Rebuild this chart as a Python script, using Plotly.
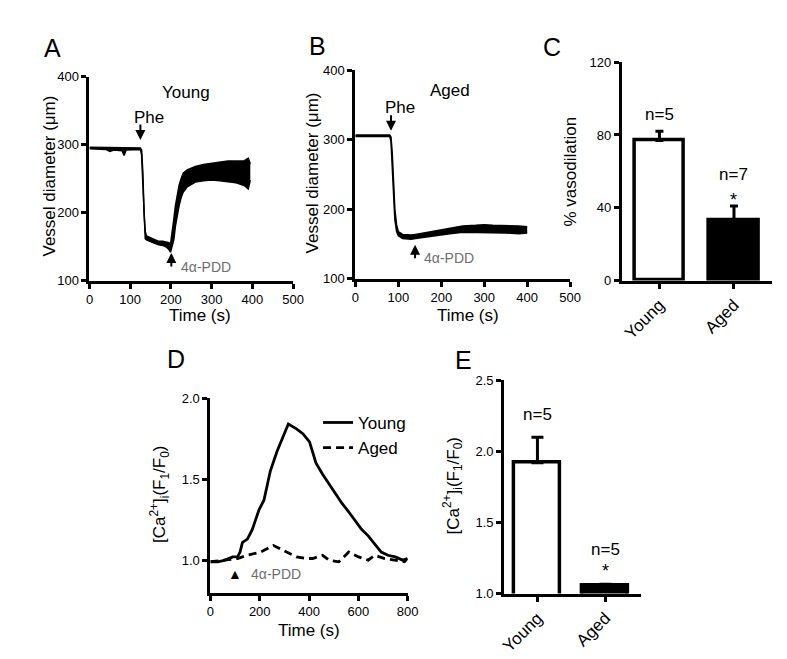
import plotly.graph_objects as go

W, H = 787, 659
FONT = "Liberation Sans, Arial, sans-serif"
GRAY = "#6e6e6e"

# ---------- Panel A (Young vessel diameter trace, upper/lower envelope) ----------
a_time = [0, 20, 40, 50, 60, 80, 85, 90, 110, 125, 128, 131, 134, 137, 140, 150, 160, 170, 180,
          190, 195, 199, 203, 207, 211, 215, 220, 225, 230, 240, 250, 260, 280, 300, 320, 340,
          360, 380, 390, 395]
a_upper = [296, 296, 296, 296, 295, 295, 295, 295, 295, 295, 292, 260, 200, 172, 166, 163, 160, 158, 158,
           156, 156, 154, 170, 190, 210, 225, 240, 250, 258, 263, 266, 268, 271, 273, 275, 276,
           276, 276, 280, 272]
a_lower = [294, 294, 293, 290, 292, 291, 284, 292, 293, 293, 285, 240, 180, 162, 160, 157, 155, 153, 152,
           149, 146, 142, 150, 160, 180, 195, 210, 222, 230, 238, 242, 245, 247, 248, 247, 245,
           244, 240, 235, 248]

# ---------- Panel B (Aged vessel diameter trace) ----------
b_time = [0, 40, 80, 83, 86, 89, 92, 96, 100, 110, 120, 130, 140, 160, 180, 200, 220, 250, 280,
          300, 320, 350, 380, 400]
b_upper = [307, 307, 307, 304, 280, 240, 200, 178, 168, 164, 163, 163, 164, 166, 168, 171, 173, 176, 177,
           178, 177, 177, 176, 175]
b_lower = [305, 305, 305, 298, 260, 215, 185, 168, 162, 158, 157, 157, 158, 160, 162, 163, 165, 167, 167,
           166, 166, 166, 165, 166]

# ---------- Panel C ----------
c_groups = ["Young", "Aged"]
c_values = [77, 33]
c_errors = [5, 8]
c_n = ["n=5", "n=7"]

# ---------- Panel D ([Ca2+]i time course) ----------
d_young_t = [0, 30, 60, 90, 110, 120, 130, 150, 170, 197, 217, 243, 270, 296, 316, 349, 375, 402,
             428, 455, 481, 507, 534, 560, 587, 613, 640, 667, 693, 720, 750, 780, 800]
d_young_v = [0.99, 0.99, 1.00, 1.02, 1.02, 1.05, 1.11, 1.13, 1.19, 1.31, 1.37, 1.55, 1.67, 1.77, 1.84, 1.81,
             1.78, 1.73, 1.60, 1.53, 1.47, 1.41, 1.35, 1.30, 1.24, 1.19, 1.15, 1.10, 1.05, 1.03, 1.02,
             1.00, 1.01]
d_aged_t = [0, 57, 110, 150, 203, 256, 296, 349, 388, 415, 455, 481, 521, 561, 601, 640, 667, 707,
            747, 787, 800]
d_aged_v = [0.99, 1.00, 1.01, 1.03, 1.05, 1.09, 1.06, 1.02, 1.01, 1.01, 1.03, 1.00, 0.99, 1.05, 1.02,
            1.00, 1.03, 1.01, 1.00, 0.99, 1.01]

# ---------- Panel E ----------
e_groups = ["Young", "Aged"]
e_values = [1.92, 1.055]
e_errors = [0.18, 0.01]
e_n = ["n=5", "n=5"]


def px(x):
    return x / W


def py(y):
    return 1 - y / H


fig = go.Figure()

# Panel A traces
fig.add_trace(go.Scatter(x=a_time, y=a_lower, mode="lines", line=dict(color="black", width=1.5),
                         xaxis="x", yaxis="y", showlegend=False, hoverinfo="skip"))
fig.add_trace(go.Scatter(x=a_time, y=a_upper, mode="lines", line=dict(color="black", width=1.5),
                         fill="tonexty", fillcolor="black", xaxis="x", yaxis="y", showlegend=False,
                         hoverinfo="skip"))
# Panel B traces
fig.add_trace(go.Scatter(x=b_time, y=b_lower, mode="lines", line=dict(color="black", width=1.5),
                         xaxis="x2", yaxis="y2", showlegend=False, hoverinfo="skip"))
fig.add_trace(go.Scatter(x=b_time, y=b_upper, mode="lines", line=dict(color="black", width=1.5),
                         fill="tonexty", fillcolor="black", xaxis="x2", yaxis="y2", showlegend=False,
                         hoverinfo="skip"))
# Panel C bars
fig.add_trace(go.Bar(x=c_groups, y=c_values, width=0.667,
                     marker=dict(color=["white", "black"], line=dict(color="black", width=3.5)),
                     error_y=dict(type="data", array=c_errors, arrayminus=[0, 0], symmetric=False,
                                  color="black", thickness=3, width=4),
                     xaxis="x3", yaxis="y3", showlegend=False))
# Panel D lines
fig.add_trace(go.Scatter(x=d_young_t, y=d_young_v, mode="lines", name="Young",
                         line=dict(color="black", width=2.8), xaxis="x4", yaxis="y4"))
fig.add_trace(go.Scatter(x=d_aged_t, y=d_aged_v, mode="lines", name="Aged",
                         line=dict(color="black", width=2.8, dash="8px,5px"), xaxis="x4", yaxis="y4"))
# Panel E bars
fig.add_trace(go.Bar(x=e_groups, y=e_values, width=0.68,
                     marker=dict(color=["white", "black"], line=dict(color="black", width=3.5)),
                     error_y=dict(type="data", array=e_errors, arrayminus=[0, 0], symmetric=False,
                                  color="black", thickness=3, width=6),
                     xaxis="x5", yaxis="y5", showlegend=False))

axis_common = dict(showline=True, linecolor="black", linewidth=3, ticks="outside", ticklen=5,
                   tickwidth=3, tickcolor="black", showgrid=False, zeroline=False,
                   tickfont=dict(family=FONT, size=13, color="black"))
cat_font = dict(family=FONT, size=17, color="black")

fig.update_layout(
    width=W, height=H, margin=dict(l=0, r=0, t=0, b=0),
    paper_bgcolor="white", plot_bgcolor="white",
    font=dict(family=FONT, color="black"),
    bargap=0,
    xaxis=dict(domain=[px(79), px(286.5)], range=[0, 500], dtick=100, anchor="y", **axis_common),
    yaxis=dict(domain=[py(272), py(63)], range=[100, 400], dtick=100, anchor="x", **axis_common),
    xaxis2=dict(domain=[px(350), px(569)], range=[0, 500], dtick=100, anchor="y2", **axis_common),
    yaxis2=dict(domain=[py(270), py(56.7)], range=[100, 400], dtick=100, anchor="x2", **axis_common),
    xaxis3=dict(domain=[px(621.7), px(775)], range=[-0.504, 1.513], anchor="y3", tickangle=-45,
                **{**axis_common, "tickfont": cat_font}),
    yaxis3=dict(domain=[py(271.7), py(48.3)], range=[0, 120], dtick=40, anchor="x3", **axis_common),
    xaxis4=dict(domain=[px(202.3), px(403.3)], range=[0, 800], dtick=200, anchor="y4", **axis_common),
    yaxis4=dict(domain=[py(591), py(392)], range=[0.8, 2.0], tickvals=[1.0, 1.5, 2.0],
                tickformat=".1f", anchor="x4", **axis_common),
    xaxis5=dict(domain=[px(501.7), px(641.7)], range=[-0.49, 1.53], anchor="y5", tickangle=-45,
                **{**axis_common, "tickfont": cat_font}),
    yaxis5=dict(domain=[py(592), py(374)], range=[1.0, 2.5], tickvals=[1.0, 1.5, 2.0, 2.5],
                tickformat=".1f", anchor="x5", **axis_common),
    legend=dict(x=px(312), y=py(399), xanchor="left", yanchor="top", bgcolor="rgba(0,0,0,0)",
                traceorder="normal",
                font=dict(family=FONT, size=17, color="black"), tracegroupgap=0, itemwidth=30),
)

ann = []


def text(x, y, s, size=17, color="black", xref="paper", yref="paper", angle=0, xanchor="center"):
    ann.append(dict(x=x, y=y, xref=xref, yref=yref, text=s, showarrow=False, textangle=angle,
                    xanchor=xanchor, yanchor="middle",
                    font=dict(family=FONT, size=size, color=color)))


def arrow(x, y, ay, xref, yref):
    ann.append(dict(x=x, y=y, xref=xref, yref=yref, text="", showarrow=True, ax=0, ay=ay,
                    arrowhead=2, arrowsize=1, arrowwidth=2, arrowcolor="black"))


# Panel letters
for letter, lx, ly in [("A", 41, 34), ("B", 311, 32), ("C", 551, 33), ("D", 167, 352), ("E", 460, 353)]:
    text(px(lx), py(ly), letter, size=25)

# Axis titles
text(px(38), py(165), "Vessel diameter (μm)", size=17, angle=-90)
text(px(192), py(308), "Time (s)", size=17)
text(px(306), py(162), "Vessel diameter (μm)", size=17, angle=-90)
text(px(465), py(307), "Time (s)", size=17)
text(px(569), py(160), "% vasodilation", size=17, angle=-90)
text(px(151), py(490), "[Ca<sup>2+</sup>]<sub>i</sub>(F<sub>1</sub>/F<sub>0</sub>)", size=17, angle=-90)
text(px(303), py(630), "Time (s)", size=17)
text(px(449), py(481), "[Ca<sup>2+</sup>]<sub>i</sub>(F<sub>1</sub>/F<sub>0</sub>)", size=17, angle=-90)

# Panel A annotations
text(236, 376, "Young", xref="x", yref="y")
text(146, 340, "Phe", xref="x", yref="y")
arrow(125, 307, -17, "x", "y")
arrow(201, 141, 15, "x", "y")
text(219, 120.5, "4α-PDD", size=14, color=GRAY, xref="x", yref="y", xanchor="left")

# Panel B annotations
text(220, 371, "Aged", xref="x2", yref="y2")
text(104, 346, "Phe", xref="x2", yref="y2")
arrow(83, 313, -17, "x2", "y2")
arrow(139, 149, 15, "x2", "y2")
text(155, 130.5, "4α-PDD", size=14, color=GRAY, xref="x2", yref="y2", xanchor="left")

# Panel C annotations
text(0, 91, c_n[0], xref="x3", yref="y3")
text(1, 58.4, c_n[1], xref="x3", yref="y3")
text(1, 44, "*", size=18, xref="x3", yref="y3")

# Panel D annotations
text(101, 0.916, "▲", size=14, xref="x4", yref="y4")
text(157, 0.916, "4α-PDD", size=14, color=GRAY, xref="x4", yref="y4", xanchor="left")

# Panel E annotations
text(0, 2.257, e_n[0], xref="x5", yref="y5")
text(1, 1.312, e_n[1], xref="x5", yref="y5")
text(1, 1.16, "*", size=18, xref="x5", yref="y5")

fig.update_layout(annotations=ann)

fig.write_html("out.html")
